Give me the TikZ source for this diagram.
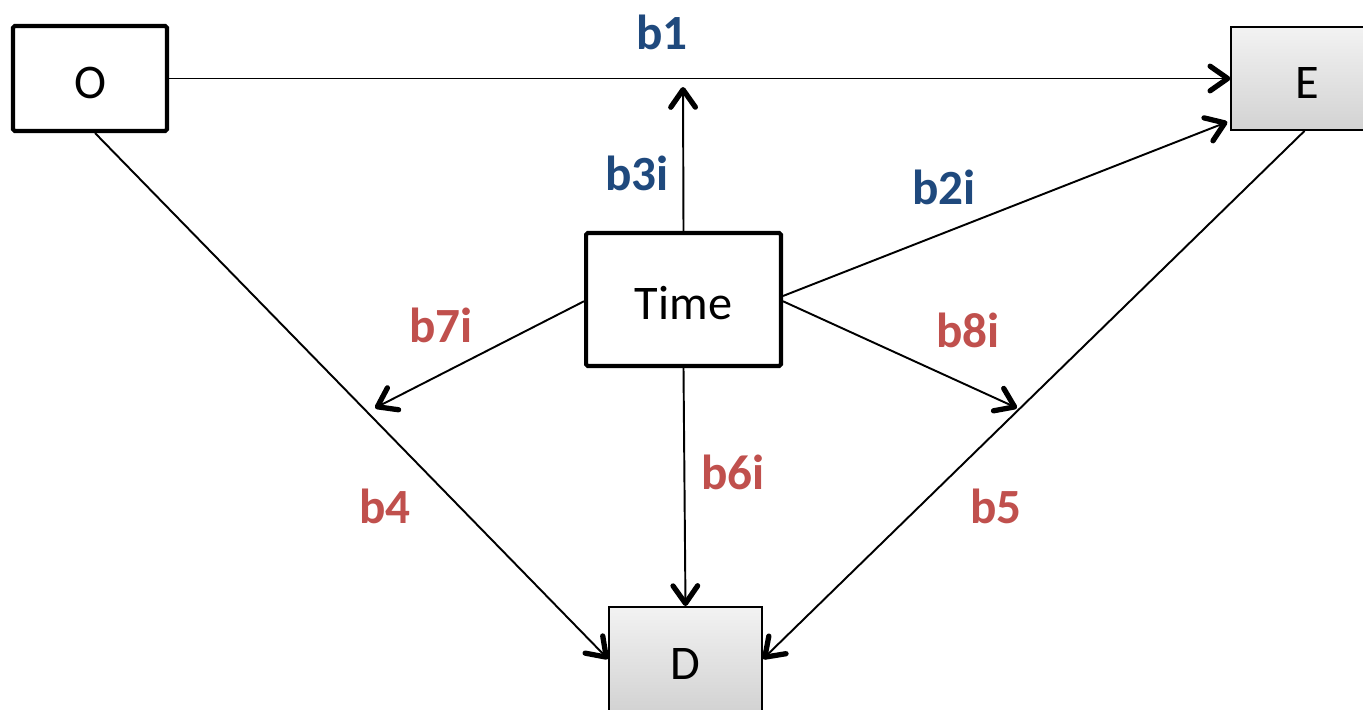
\documentclass[tikz,border=0pt]{standalone}
\usepackage{fontspec}
\setmainfont{Carlito}
\usetikzlibrary{arrows.meta,calc}
\definecolor{lblblue}{HTML}{1F497D}
\definecolor{lblred}{HTML}{C0504D}
\begin{document}
\begin{tikzpicture}[x=0.02cm,y=-0.02cm,
  boxtext/.style={font=\fontsize{27.5}{32}\selectfont,text height=23pt,text depth=0pt,inner sep=0pt},
  thickbox/.style={boxtext,draw=black,line width=2.3pt,fill=white,rounded corners=1pt},
  graybox/.style={boxtext,draw=black,line width=1.1pt,top color=gray!10,bottom color=gray!35},
  conn/.style={line width=1.1pt,-{Straight Barb[length=10pt,width=14pt,line width=3pt,round]}},
  bl/.style={text=lblblue,font=\bfseries\fontsize{28}{32}\selectfont},
  rl/.style={text=lblred,font=\bfseries\fontsize{28}{32}\selectfont}]
\useasboundingbox (0,0) rectangle (1363,710);
\node[thickbox,minimum width=3.08cm,minimum height=2.1cm] (O) at (90,78.5) {O};
\node[graybox,minimum width=3.05cm,minimum height=2.06cm] (E) at (1307.5,78.5) {E};
\node[thickbox,minimum width=3.9cm,minimum height=2.66cm] (T) at (683.5,299.5) {Time};
\node[graybox,minimum width=3.06cm,minimum height=2.08cm] (D) at (685.5,659) {D};
\coordinate (m1) at (683,87);
\coordinate (m7) at (375,408);
\coordinate (m8) at (1017,408);
\draw[conn] (O.east) -- (E.west);
\draw[conn] (T.north) -- (m1);
\draw[conn] ([yshift=2pt]T.east) -- ($(E.south west)+(-3,-9)$);
\draw[conn] ([yshift=-1pt]T.west) -- (m7);
\draw[conn] ([yshift=-1pt]T.east) -- (m8);
\draw[conn] (T.south) -- (D.north);
\draw[conn] ($(O.south)+(5,0)$) -- (D.west);
\draw[conn] ($(E.south)+(-3,0)$) -- (D.east);
\node[bl] (lb1) at (662,32) {b1};
\node[bl] (lb3) at (637,173) {b3i};
\node[bl] (lb2) at (944,187) {b2i};
\node[rl] (lb7) at (441,325) {b7i};
\node[rl] (lb8) at (968,330) {b8i};
\node[rl] (lb6) at (733,472) {b6i};
\node[rl] (lb4) at (385,506) {b4};
\node[rl] (lb5) at (996,506) {b5};
\end{tikzpicture}
\end{document}
